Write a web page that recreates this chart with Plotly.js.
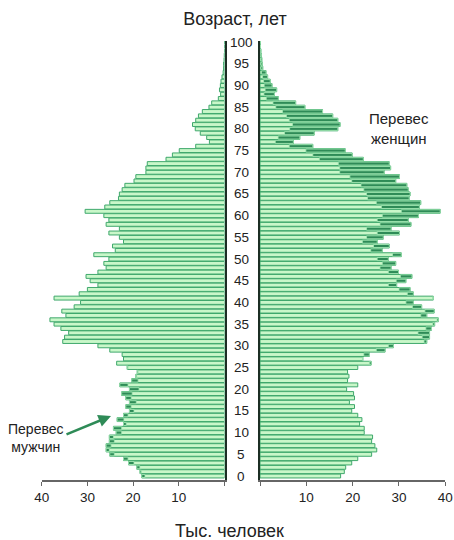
<!DOCTYPE html>
<html><head><meta charset="utf-8">
<script src="https://cdn.plot.ly/plotly-3.0.1.min.js"></script>
<style>body{margin:0;background:#fff}#c{width:454px;height:540px}</style>
</head><body><div id="c"></div>
<script>
// Age 0..100
const ages = Array.from({length: 101}, (_, i) => i);
// Males, thousands (age 0..100)
const males = [18.1,18.5,19.2,21.0,22.1,25.1,25.9,25.9,25.2,25.2,
  23.7,24.3,22.1,23.5,22.1,20.8,21.6,20.8,21.6,22.5,
  20.8,22.9,20.3,19.4,19.1,21.3,23.6,22.1,22.4,25.1,
  27.7,35.4,35.0,34.1,35.8,37.3,38.2,34.7,35.6,32.9,
  31.5,37.3,31.8,30.0,27.7,29.4,30.3,27.7,25.9,26.4,
  25.3,28.6,23.9,24.5,22.1,23.0,25.3,23.0,25.9,25.3,
  26.4,30.5,26.2,25.1,23.2,23.0,22.4,21.8,19.8,19.4,
  17.2,17.2,16.9,12.8,11.4,9.9,6.3,3.3,3.9,5.3,
  6.4,7.0,6.3,5.7,4.85,3.4,2.8,1.35,0.85,1.1,
  0.9,0.77,0.55,0.3,0.2,0.2,0.1,0.05,0,0,0];
// Females, thousands (age 0..100)
const females = [17.4,18.2,18.5,19.8,21.1,24.1,25.2,24.8,24.1,24.3,
  22.5,22.5,21.5,22.0,21.1,19.8,20.4,19.3,20.4,20.2,
  18.7,21.1,18.9,19.2,18.9,21.1,24.0,22.2,23.6,27.0,
  28.8,36.0,36.6,36.6,37.0,37.7,38.5,36.0,37.6,34.9,
  33.1,37.4,33.1,32.4,29.5,31.5,32.8,29.9,28.3,29.3,
  27.7,30.5,26.4,27.9,25.3,26.6,30.1,28.3,32.6,32.0,
  34.2,38.9,34.4,34.7,32.2,32.4,32.0,31.7,29.3,30.1,
  26.8,28.2,27.9,22.3,19.9,18.4,11.4,7.2,8.6,11.7,
  16.8,17.3,16.8,15.7,13.5,9.7,7.7,3.96,3.1,3.6,
  2.6,2.2,1.65,1.3,0.6,0.5,0.4,0.3,0.2,0.1,0.05];
const ageTicks = [0,5,10,15,20,25,30,35,40,45,50,55,60,65,70,75,80,85,90,95,100];
const xTicksLeft = [40,30,20,10,0];
const xTicksRight = [0,10,20,30,40];

const LIGHT = '#c9f7c9', EDGE = '#3fa86c', DARK = '#2e8b57';
const FONT = 'Liberation Sans, Arial, sans-serif';

const mExcess = males.map((m,i) => m > females[i] ? m - females[i] : null);
const fExcess = females.map((f,i) => f > males[i] ? f - males[i] : null);
const mBase = females.map((f,i) => mExcess[i] === null ? null : f);
const fBase = males.map((m,i) => fExcess[i] === null ? null : m);

const traces = [
  {type:'bar', orientation:'h', y:ages, x:males, xaxis:'x', yaxis:'y', width:0.9,
   marker:{color:LIGHT, line:{color:EDGE, width:1}}, hoverinfo:'none'},
  {type:'bar', orientation:'h', y:ages, x:mExcess, base:mBase, xaxis:'x', yaxis:'y', width:0.7,
   marker:{color:DARK, line:{color:'#a8ecb8', width:0.8}}, hoverinfo:'none'},
  {type:'bar', orientation:'h', y:ages, x:females, xaxis:'x2', yaxis:'y2', width:0.9,
   marker:{color:LIGHT, line:{color:EDGE, width:1}}, hoverinfo:'none'},
  {type:'bar', orientation:'h', y:ages, x:fExcess, base:fBase, xaxis:'x2', yaxis:'y2', width:0.7,
   marker:{color:DARK, line:{color:'#a8ecb8', width:0.8}}, hoverinfo:'none'}
];

const annotations = ageTicks.map(a => ({
  xref:'paper', yref:'y', x:241/454, y:a, text:String(a), showarrow:false,
  xanchor:'center', yanchor:'middle', font:{family:FONT, size:13.5, color:'#222'}
}));
annotations.push(
  {xref:'paper', yref:'paper', x:229.5/454, y:(480-531)/439, text:'Тыс. человек', showarrow:false,
   xanchor:'center', yanchor:'middle', font:{family:FONT, size:18, color:'#222'}},
  {xref:'paper', yref:'paper', x:399/454, y:(480-128)/439, text:'Перевес<br>женщин', showarrow:false,
   xanchor:'center', yanchor:'middle', align:'center', font:{family:FONT, size:15, color:'#222'}},
  {xref:'paper', yref:'paper', x:36/454, y:(480-438)/439, text:'Перевес<br>мужчин', showarrow:false,
   xanchor:'center', yanchor:'middle', align:'center', font:{family:FONT, size:14, color:'#222'}},
  {xref:'paper', yref:'paper', x:111/454, y:(480-416)/439, text:'', showarrow:true,
   ax:-46, ay:19, arrowhead:2, arrowsize:1, arrowwidth:2.5, arrowcolor:DARK, standoff:0, startstandoff:0}
);

const layout = {
  width:454, height:540,
  margin:{l:0, r:0, t:41, b:60},
  paper_bgcolor:'#fff', plot_bgcolor:'rgba(0,0,0,0)',
  showlegend:false, barmode:'overlay', bargap:0,
  font:{family:FONT, size:13, color:'#222'},
  title:{text:'Возраст, лет', xref:'container', x:235/454, xanchor:'center',
         yref:'container', y:1-19/540, yanchor:'middle', font:{family:FONT, size:18, color:'#222'}},
  xaxis:{domain:[41.7/454, 224.5/454], range:[40,0], showgrid:false, zeroline:false,
         showline:true, linecolor:'#666', linewidth:1.5, ticks:'outside', ticklen:4, tickcolor:'#666',
         tickvals:xTicksLeft, ticktext:xTicksLeft.map(v => v===0 ? '' : String(v)),
         tickfont:{family:FONT, size:13.5, color:'#222'}, anchor:'y', fixedrange:true},
  xaxis2:{domain:[260/454, 445.3/454], range:[0,40], showgrid:false, zeroline:false,
         showline:true, linecolor:'#666', linewidth:1.5, ticks:'outside', ticklen:4, tickcolor:'#666',
         tickvals:xTicksRight, ticktext:xTicksRight.map(v => v===0 ? '' : String(v)),
         tickfont:{family:FONT, size:13.5, color:'#222'}, anchor:'y2', fixedrange:true},
  yaxis:{range:[-0.92,100.25], anchor:'x', side:'right', showline:true, linecolor:'#1c2e24', linewidth:2,
         showgrid:false, zeroline:false, showticklabels:false, ticks:''},
  yaxis2:{range:[-0.92,100.25], anchor:'x2', side:'left', showline:true, linecolor:'#1c2e24', linewidth:2,
         showgrid:false, zeroline:false, showticklabels:false, ticks:'', matches:'y'},
  annotations:annotations
};

Plotly.newPlot('c', traces, layout, {displayModeBar:false, staticPlot:true});
</script>
</body></html>
